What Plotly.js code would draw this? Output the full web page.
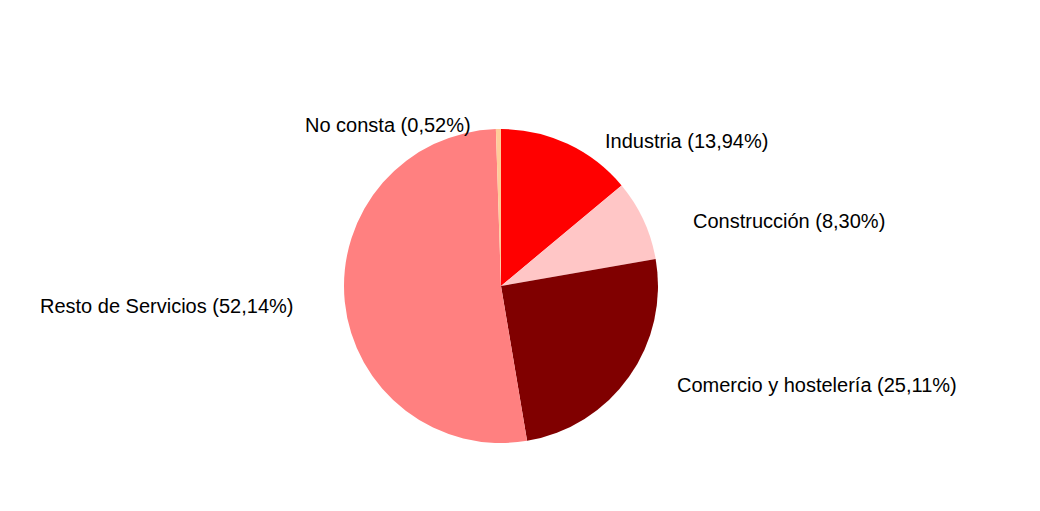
<!DOCTYPE html>
<html>
<head>
<meta charset="utf-8">
<script src="https://cdn.plot.ly/plotly-3.0.1.min.js"></script>
<style>html,body{margin:0;padding:0;background:#fff;}#chart{width:1040px;height:511px;}</style>
</head>
<body>
<div id="chart"></div>
<script>
const labels = ["Industria", "Construcción", "Comercio y hostelería", "Resto de Servicios", "No consta"];
const values = [13.94, 8.30, 25.11, 52.14, 0.52];
const colors = ["#ff0000", "#ffc6c6", "#800000", "#ff8080", "#ffcc99"];

const W = 1040, H = 511;
const cx = 501, cy = 286, R = 157;
const margin = {l: cx - R, r: W - (cx + R), t: cy - R, b: H - (cy + R)};

const total = values.reduce((a, b) => a + b, 0);
let cum = 0;
const annotations = values.map((v, i) => {
  const mid = (cum + v / 2) / total * 2 * Math.PI;
  cum += v;
  const s = Math.sin(mid), c = Math.cos(mid);
  const side = s >= 0 ? 1 : -1;
  const px = cx + R * s + side * (25 + 25 * Math.abs(s));
  const py = cy - (R + 8) * c + 4;
  const txt = labels[i] + " (" + v.toFixed(2).replace(".", ",") + "%)";
  return {
    text: txt, showarrow: false,
    xref: "paper", yref: "paper",
    x: (px - margin.l) / (2 * R), y: (H - margin.b - py) / (2 * R),
    xanchor: side > 0 ? "left" : "right", yanchor: "middle",
    font: {family: "Liberation Sans, Arial, sans-serif", size: 20, color: "#000"}
  };
});

const data = [{
  type: "pie", labels: labels, values: values,
  marker: {colors: colors, line: {width: 0}},
  sort: false, direction: "clockwise", rotation: 0,
  textinfo: "none", hoverinfo: "label+percent",
  showlegend: false
}];

const layout = {
  width: W, height: H, margin: margin,
  paper_bgcolor: "#fff", plot_bgcolor: "#fff",
  showlegend: false, annotations: annotations
};

Plotly.newPlot("chart", data, layout, {displayModeBar: false, staticPlot: true});
</script>
</body>
</html>
